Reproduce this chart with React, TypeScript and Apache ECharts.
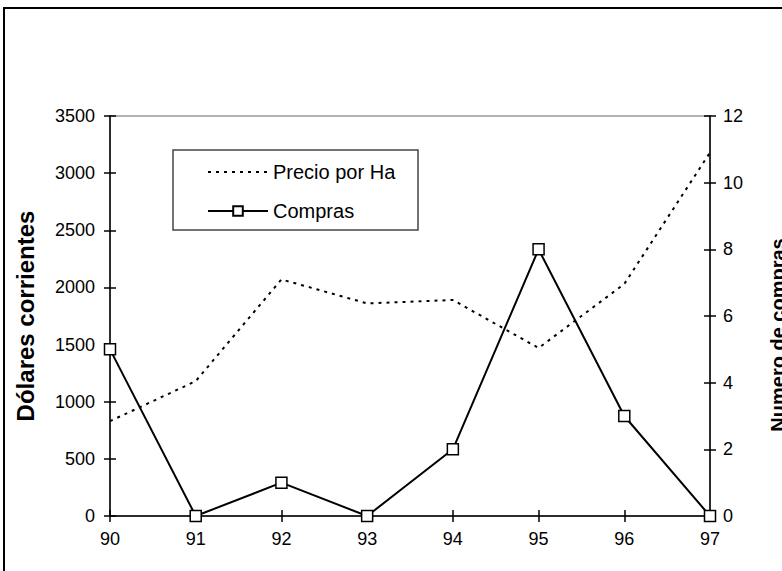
import React, { useEffect, useRef } from 'react';
import * as echarts from 'echarts';

const years = ['90', '91', '92', '93', '94', '95', '96', '97'];
const precioPorHa = [830, 1180, 2070, 1860, 1890, 1470, 2030, 3180];
const compras = [5, 0, 1, 0, 2, 8, 3, 0];

const FONT = 'Liberation Sans, Arial, Helvetica, sans-serif';

export default function App() {
  const ref = useRef<HTMLDivElement>(null);
  useEffect(() => {
    if (!ref.current) return;
    const chart = echarts.init(ref.current, null, { renderer: 'svg' });
    const tickInside = { show: true, inside: true, length: 6, lineStyle: { color: '#000', width: 1.5 } };
    const tickOutside = { show: true, inside: false, length: 6, lineStyle: { color: '#000', width: 1.5 } };
    const plain = (v: number) => String(v);
    chart.setOption({
      animation: false,
      backgroundColor: '#fff',
      textStyle: { fontFamily: FONT, color: '#000' },
      grid: {
        left: 110, right: 72, top: 116, bottom: 55,
        containLabel: false,
        outerBoundsMode: 'none',
        show: true, borderColor: '#999', borderWidth: 1.5, backgroundColor: 'transparent',
      },
      legend: {
        orient: 'vertical',
        left: 207,
        top: 161,
        padding: 0,
        itemGap: 17,
        itemWidth: 60,
        itemHeight: 12,
        textStyle: { fontSize: 20, color: '#000', fontFamily: FONT, lineHeight: 22 },
        data: [{ name: 'Precio por Ha', itemStyle: { opacity: 0 } }, { name: 'Compras' }],
      },
      graphic: [
        {
          type: 'rect', z: 100, silent: true,
          shape: { x: 4, y: 8, width: 900, height: 900 },
          style: { fill: 'none', stroke: '#000', lineWidth: 2 },
        },
        {
          type: 'rect', z: 100, silent: true,
          shape: { x: 173, y: 150, width: 245, height: 80 },
          style: { fill: 'none', stroke: '#444', lineWidth: 1.5 },
        },
      ],
      xAxis: [
        {
          type: 'category', data: years, boundaryGap: false, position: 'bottom',
          axisLine: { show: true, lineStyle: { color: '#000', width: 1.5 } },
          axisTick: tickOutside,
          axisLabel: { fontSize: 18, color: '#000', margin: 14, fontFamily: FONT },
          splitLine: { show: false },
        },
        {
          type: 'category', data: years, boundaryGap: false, position: 'bottom',
          axisLine: { show: false }, axisTick: tickInside,
          axisLabel: { show: false }, splitLine: { show: false },
        },
      ],
      yAxis: [
        {
          type: 'value', min: 0, max: 3500, interval: 500, position: 'left',
          name: 'Dólares corrientes', nameLocation: 'middle', nameRotate: 90, nameGap: 73,
          nameTextStyle: { fontSize: 24, fontWeight: 'bold', color: '#000', fontFamily: FONT },
          axisLine: { show: true, lineStyle: { color: '#000', width: 1.5 } },
          axisTick: tickOutside,
          axisLabel: { fontSize: 18, color: '#000', margin: 15, fontFamily: FONT, formatter: plain },
          splitLine: { show: false },
        },
        {
          type: 'value', min: 0, max: 12, interval: 2, position: 'right',
          name: 'Numero de compras', nameLocation: 'middle', nameRotate: 90, nameGap: 58,
          nameTextStyle: {
            fontSize: 20, fontWeight: 'bold', color: '#000', fontFamily: FONT,
            padding: [0, 38, 0, 0],
          },
          axisLine: { show: true, lineStyle: { color: '#000', width: 1.5 } },
          axisTick: tickOutside,
          axisLabel: { fontSize: 18, color: '#000', margin: 13, fontFamily: FONT, formatter: plain },
          splitLine: { show: false },
        },
        {
          type: 'value', min: 0, max: 3500, interval: 500, position: 'left',
          axisLine: { show: false }, axisTick: tickInside,
          axisLabel: { show: false }, splitLine: { show: false },
        },
        {
          type: 'value', min: 0, max: 12, interval: 2, position: 'right',
          axisLine: { show: false }, axisTick: tickInside,
          axisLabel: { show: false }, splitLine: { show: false },
        },
      ],
      series: [
        {
          name: 'Precio por Ha', type: 'line', yAxisIndex: 0, data: precioPorHa,
          symbol: 'none', showSymbol: false,
          lineStyle: { color: '#000', width: 2, type: [3, 5] },
          itemStyle: { color: '#000' },
        },
        {
          name: 'Compras', type: 'line', yAxisIndex: 1, data: compras,
          symbol: 'rect', symbolSize: 11,
          lineStyle: { color: '#000', width: 2 },
          itemStyle: { color: '#fff', borderColor: '#000', borderWidth: 1.5 },
        },
      ],
    });
    return () => chart.dispose();
  }, []);
  return (
    <div
      ref={ref}
      style={{ position: 'absolute', left: 0, top: 0, width: 782, height: 571 }}
    />
  );
}
